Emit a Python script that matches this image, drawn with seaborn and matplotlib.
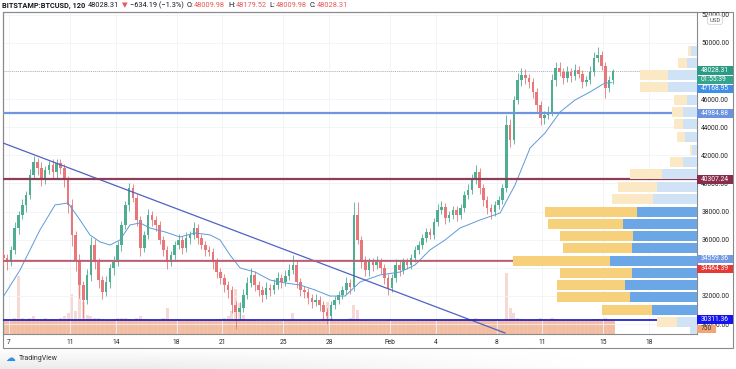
import matplotlib
matplotlib.use('Agg')
import matplotlib.pyplot as plt
import matplotlib.ticker as ticker
import matplotlib.transforms as mtransforms
from matplotlib.patches import Rectangle
import numpy as np
import pandas as pd
import seaborn as sns

# 6h candles, prices in thousands of USD
close = [34.70, 34.41, 35.27, 36.83, 37.76, 38.47, 39.18, 40.61, 41.53, 41.10,
         40.39, 40.96, 41.32, 40.82, 41.46, 41.10, 40.25, 38.47, 36.34, 34.56,
         32.78, 31.71, 33.49, 35.62, 34.41, 33.13, 32.28, 32.99, 33.99, 34.41,
         35.62, 37.05, 38.47, 39.68, 38.97, 37.40, 35.41, 36.34, 37.76, 37.40,
         37.05, 35.98, 35.27, 34.41, 34.91, 35.62, 35.98, 35.41, 36.12, 36.34,
         36.83, 36.12, 35.62, 35.27, 35.13, 34.41, 33.70, 33.27, 32.78, 32.42,
         31.35, 30.85, 31.14, 32.07, 32.92, 33.49, 32.78, 32.42, 32.07, 32.56,
         32.42, 32.78, 33.27, 32.99, 33.42, 33.84, 34.20, 32.99, 32.42, 32.28,
         31.85, 31.57, 31.71, 31.35, 30.85, 30.57, 31.35, 31.71, 32.07, 32.42,
         32.92, 32.63, 37.76, 35.98, 34.41, 33.84, 34.41, 34.20, 34.41, 33.99,
         33.27, 32.56, 33.27, 34.20, 33.84, 34.41, 34.20, 34.70, 35.27, 35.62,
         36.12, 36.55, 36.34, 37.26, 38.11, 38.33, 37.55, 37.76, 38.11, 37.76,
         38.26, 39.18, 39.54, 40.25, 40.82, 39.68, 38.83, 38.26, 37.97, 38.47,
         38.83, 39.68, 44.16, 43.10, 45.94, 47.37, 47.72, 47.51, 47.22, 46.51,
         45.59, 44.66, 44.88, 45.09, 47.37, 48.22, 47.94, 47.51, 47.94, 47.65,
         48.08, 47.79, 47.22, 47.37, 47.94, 48.93, 49.15, 48.36, 46.80, 47.37,
         48.03]
first_open = 34.90
wick_up = [.4, .3, .3, .4, .3, .4, .3, .4, .4, .3,
           .4, .3, .3, .4, .3, .3, .3, .3, .4, .3,
           .4, .3, .4, .6, .4, .3, .3, .4, .3, .4,
           .3, .3, .3, .35, .3, .3, .3, .3, .4, .3,
           .3, .3, .3, .3, .3, .3, .4, .3, .4, .3,
           .4, .3, .3, .3, .3, .3, .3, .3, .3, .3,
           .3, .3, .4, .4, .4, .5, .3, .3, .3, .4,
           .3, .4, .4, .3, .4, .4, .7, .3, .3, .3,
           .3, .3, .4, .3, .3, .3, .3, .3, .3, .3,
           .4, .3, .9, .9, .3, .4, .3, .3, .4, .3,
           .3, .3, .3, .4, .3, .3, .3, .3, .3, .3,
           .3, .3, .3, .3, .4, .4, .3, .3, .3, .3,
           .3, .3, .4, .4, .5, .3, .3, .3, .3, .3,
           .3, .3, .7, .4, .3, .5, .5, .4, .3, .3,
           .3, .3, .3, .4, .4, .4, .4, .3, .4, .3,
           .4, .3, .3, .3, .4, .4, .55, .3, .3, .3,
           .15]
wick_dn = [.5, .6, .3, .3, .4, .3, .5, .3, .3, .5,
           .6, .4, .3, .5, .4, .4, .5, .6, .8, .8,
           .9, 1.3, .3, .4, .5, .6, .5, .3, .4, .5,
           .3, .4, .3, .4, .3, .4, .6, .3, .3, .4,
           .4, .3, .4, .5, .3, .4, .3, .4, .3, .4,
           .3, .4, .3, .4, .3, .5, .4, .4, .5, .6,
           .6, 1.2, .5, .3, .3, .3, .4, .4, .5, .3,
           .4, .3, .3, .4, .3, .3, .3, .4, .4, .4,
           .4, .4, .3, .4, .5, .6, .3, .3, .3, .3,
           .3, .5, .3, .3, .4, .4, .4, .4, .3, .4,
           .4, .5, .3, .3, .4, .3, .3, .3, .3, .3,
           .3, .3, .3, .3, .3, .3, .4, .3, .3, .4,
           .3, .3, .3, .3, .3, .4, .4, .4, .5, .3,
           .3, .3, .3, .5, .3, .3, .4, .4, .4, .4,
           .5, .5, .4, .3, .3, .4, .3, .4, .3, .4,
           .3, .3, .4, .3, .3, .3, .3, .3, .7, .3,
           .3]
volume = [.9, .95, .9, 1.0, 3.6, 1.0, .95, 1.0, 1.1, .95,
          .9, 1.0, .9, .95, .9, 1.0, 1.1, 1.3, 2.5, 1.4,
          3.5, 2.0, 1.2, 1.1, 1.0, 1.0, .95, .9, .9, .95,
          1.0, 1.0, 1.0, .95, .9, 1.0, 1.1, .95, .9, .9,
          .9, .9, 1.0, 1.6, .9, .85, .85, .9, .9, .85,
          .9, .85, .85, .85, .85, .9, .9, .95, 1.0, 1.1,
          1.4, 2.8, 1.9, 1.2, .9, .9, .85, .8, .8, .8,
          .8, .8, .8, .8, .85, .85, 1.3, .9, .85, .85,
          .85, .85, .85, .9, 1.0, 2.0, 1.0, .9, .85, .85,
          .9, 1.0, 1.8, 1.5, .9, .85, .8, .8, .8, .8,
          .8, .85, .8, .8, .8, .8, .8, .8, .8, .85,
          .85, .85, .85, .85, .9, .9, .85, .85, .85, .85,
          .85, .9, .9, .95, 1.0, .95, .9, .85, .85, .85,
          .85, .9, 3.8, 1.6, 1.3, 1.0, .95, .9, .9, .9,
          .95, 1.0, .95, .9, 1.0, .95, .9, .9, .85, .85,
          .85, .85, .85, .85, .9, .95, .95, .9, 1.0, .9,
          .85]

# moving average (day of 2021, Jan = day number, Feb 1 = 32)
ma_day = [6.61, 7.72, 9.03, 10.02, 10.87, 11.66, 12.31, 12.97, 13.63, 14.28,
          14.94, 15.60, 16.25, 17.24, 18.22, 19.20, 20.19, 20.85, 21.50, 22.16,
          23.14, 24.13, 25.11, 26.09, 27.08, 28.06, 29.05, 30.03, 31.34, 32.66,
          33.64, 34.62, 35.61, 36.59, 37.90, 39.22, 40.20, 41.19, 42.17, 43.16,
          44.14, 45.12, 46.10, 46.56]
ma_price = [31.92, 33.84, 36.69, 38.47, 38.61, 37.40, 36.34, 35.84, 35.62, 35.98,
            37.05, 37.19, 36.83, 36.55, 36.19, 36.48, 36.34, 35.98, 34.91, 33.99,
            33.70, 33.13, 32.92, 32.78, 32.42, 31.99, 31.99, 32.99, 33.49, 33.70,
            34.20, 35.27, 35.98, 36.83, 37.40, 37.90, 39.89, 42.53, 43.59, 45.09,
            45.94, 46.51, 47.15, 47.17]

trend_day = [6.606, 39.55]
trend_price = [42.88, 29.36]

# volume profile rows (price centre, up volume, down volume)
prof_price = [49.43, 48.58, 47.72, 46.87, 45.94, 45.09, 44.24, 43.31, 42.38, 41.53,
              40.68, 39.75, 38.90, 37.97, 37.12, 36.26, 35.41, 34.48, 33.63, 32.78,
              31.92, 31.00, 30.14, 29.57]
prof_up = [6, 10, 29, 29, 10, 14, 14, 12, 5, 14, 35, 40, 44, 60, 74, 64, 65, 87, 65, 72,
           67, 45, 20, 7]
prof_dn = [3, 9, 28, 28, 13, 11, 9, 8, 2, 13, 32, 39, 41, 92, 75, 73, 69, 97, 72, 68,
           73, 50, 20, 0]
value_area = [False] * 13 + [True] * 9 + [False] * 2

tick_days = [7, 11, 14, 18, 21, 25, 28, 32, 35, 39, 42, 46, 49]
tick_labels = ['7', '11', '14', '18', '21', '25', '28', 'Feb', '4', '8', '11', '15', '18']

W, H = 736, 369
sns.set_theme(style='white')
plt.rcParams['font.family'] = ['Roboto', 'DejaVu Sans']

fig = plt.figure(figsize=(W / 100, H / 100), dpi=100)
ax = fig.add_axes([3 / W, 35 / H, 694 / W, 322 / H])
axv = ax.twinx()
axp = ax.twiny()
axv.set_zorder(0)
ax.set_zorder(1)
axp.set_zorder(2)
ax.patch.set_visible(False)
axp.patch.set_visible(False)

times = pd.date_range('2021-01-06 15:00', periods=len(close), freq='6h')
day = ((times - pd.Timestamp('2020-12-31')) / pd.Timedelta(days=1)).values
c = np.array(close)
o = np.array([first_open] + close[:-1])
hi = np.maximum(o, c) + np.array(wick_up)
lo = np.minimum(o, c) - np.array(wick_dn)
up = c >= o
cols = np.where(up, '#4fae91', '#e8777a')

# volume: faint full bars, with the dense salmon band on top of them
vol = np.array(volume)
axv.bar(day, vol, width=0.2, color='#f2c9c4', alpha=0.7, linewidth=0)
axv.bar(day, np.minimum(vol, 0.95), width=0.25, color='#f3b899', alpha=0.85, linewidth=0)
axv.set_ylim(0, 20)
axv.set_yticks([])

# candles
ax.vlines(day, lo, hi, colors=cols, linewidth=0.6, zorder=3)
ax.bar(day, np.maximum(np.abs(c - o), 0.05), bottom=np.minimum(o, c), width=0.17,
       color=cols, linewidth=0, zorder=4)

sns.lineplot(x=ma_day, y=ma_price, ax=ax, color='#5d9ad8', linewidth=0.7, zorder=5)
sns.lineplot(x=trend_day, y=trend_price, ax=ax, color='#5162c4', linewidth=0.9, zorder=5)

ax.axhline(44.98488, color='#6f95dc', lw=1.6, zorder=6)
ax.axhline(40.30724, color='#8c3e58', lw=1.6, zorder=6)
ax.axhline(34.55936, color='#7d9be0', lw=1.0, zorder=6)
ax.axhline(34.46439, color='#c9505c', lw=1.3, alpha=0.9, zorder=6)
ax.axhline(30.31136, color='#2424c8', lw=1.3, zorder=6)
ax.axhline(48.02831, color='#9aa0a6', lw=0.6, ls=(0, (1, 1.5)), zorder=2)

# volume profile
yel = ['#f6d07a' if v else '#fbe8c4' for v in value_area]
blu = ['#6ba6e6' if v else '#cfe2f6' for v in value_area]
axp.barh(prof_price, prof_up, left=0, height=0.76, color=blu, linewidth=0)
axp.barh(prof_price, prof_dn, left=prof_up, height=0.76, color=yel, linewidth=0)
axp.set_xlim(694, 0)
axp.set_xticks([])

ax.set_xlim(6.606, 52.14)
ax.set_ylim(29.29, 52.2)
ax.set_xticks(tick_days)
ax.set_xticklabels(tick_labels)
ax.set_yticks(np.arange(30, 53, 2))
ax.yaxis.set_major_formatter(ticker.FuncFormatter(lambda v, p: f'{v * 1000:.2f}'))
ax.yaxis.tick_right()
ax.tick_params(axis='y', length=0, pad=3, labelsize=4.8, colors='#222222')
ax.tick_params(axis='x', length=0, pad=3.5, labelsize=4.8, colors='#222222')
ax.set_xlabel('')
ax.set_ylabel('')
ax.grid(True, color='#f0f2f6', linewidth=0.6)
ax.set_axisbelow(True)
for s in ax.spines.values():
    s.set_color('#8a8a8a')
    s.set_linewidth(0.8)
for a in (axv, axp):
    for s in a.spines.values():
        s.set_visible(False)

# price scale labels
tr = mtransforms.blended_transform_factory(ax.transAxes, ax.transData)
labels = [(48.028, '48028.31', '#2b9c84', 'white', 36),
          (47.37, '01:55:39', '#35a48c', 'white', 36),
          (46.73, '47168.95', '#3f8fe6', 'white', 36),
          (44.985, '44984.88', '#6a92de', 'white', 36),
          (40.307, '40307.24', '#8a2d4c', 'white', 36),
          (34.63, '34559.36', '#7399e4', 'white', 36),
          (33.92, '34464.39', '#e53935', 'white', 36),
          (30.311, '30311.36', '#1414ee', 'white', 36),
          (29.65, '750', '#f2a677', '#333333', 19)]
for yv, txt, bg, fg, wpx in labels:
    ax.add_patch(Rectangle((1.0, yv - 0.31), wpx / 694, 0.62, transform=tr, fc=bg,
                           ec='none', clip_on=False, zorder=10))
    ax.text(1.0 + 4 / 694, yv, txt, transform=tr, color=fg, fontsize=4.9, ha='left',
            va='center', clip_on=False, zorder=11)

fig.text(715 / W, 1 - 20 / H, 'USD', fontsize=4.3, color='#555555', ha='center', va='center',
         bbox=dict(boxstyle='round,pad=0.3', fc='white', ec='#cccccc', lw=0.5))

# outer frame
fig.add_artist(Rectangle((3 / W, 21 / H), 730 / W, 336 / H, transform=fig.transFigure,
                         fill=False, ec='#8a8a8a', lw=0.8))

# bottom shadow and logo
axs = fig.add_axes([0, 0, 1, 19 / H])
grad = np.outer(np.linspace(0.02, 0.16, 19), np.clip(np.linspace(1.3, -0.3, 736), 0, 1))
axs.imshow(grad, aspect='auto', cmap='Greys', vmin=0, vmax=1, origin='upper')
axs.axis('off')
fig.text(5 / W, 1 - 358 / H, '☁', color='#2e8fe8', fontsize=7, va='center', ha='left',
         family=['DejaVu Sans'])
fig.text(19 / W, 1 - 358 / H, 'TradingView', color='#333333', fontsize=5, va='center', ha='left')

# header line
fig.canvas.draw()
r = fig.canvas.get_renderer()
dark, red = '#131722', '#e8585a'
parts = [('BITSTAMP:BTCUSD, 120', dark, 'bold', 3), ('48028.31', dark, 'normal', 3),
         ('▼', red, 'normal', 2), ('−634.19 (−1.3%)', dark, 'normal', 3),
         ('O:', dark, 'normal', 0.5), ('48009.98', red, 'normal', 3),
         ('H:', dark, 'normal', 0.5), ('48179.52', red, 'normal', 3),
         ('L:', dark, 'normal', 0.5), ('48009.98', red, 'normal', 3),
         ('C:', dark, 'normal', 0.5), ('48028.31', red, 'normal', 3)]
x = 2
for s, col, w, gap in parts:
    t = fig.text(x / W, 1 - 5.5 / H, s, color=col, fontsize=5.3, fontweight=w,
                 ha='left', va='center', family=['Roboto', 'DejaVu Sans'])
    x = t.get_window_extent(r).x1 + gap

fig.savefig('out.png', dpi=100)
